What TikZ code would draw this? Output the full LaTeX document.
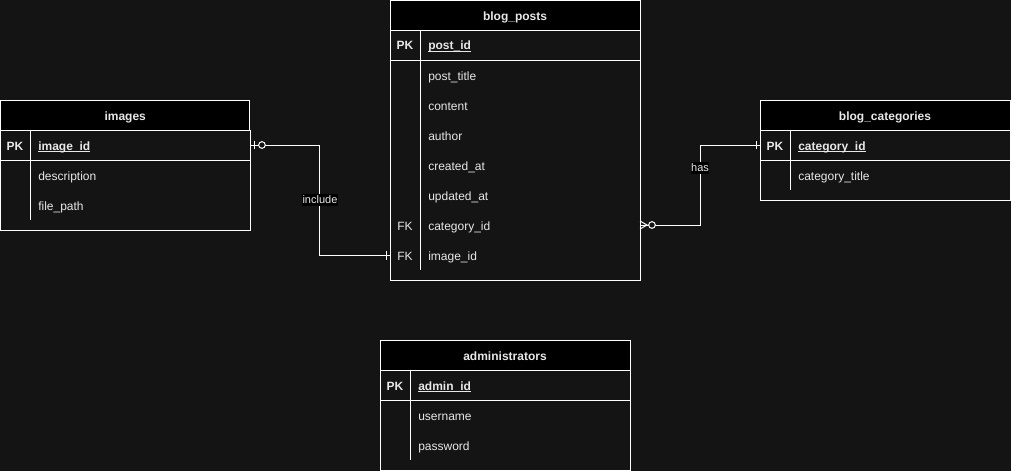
\documentclass[tikz,border=0pt]{standalone}
\usepackage{fontspec}
\setmainfont{Liberation Sans}
\usetikzlibrary{calc}
\definecolor{bg}{RGB}{20,20,20}
\definecolor{ink}{RGB}{232,232,232}
\newcommand{\keyname}[1]{\setbox0\hbox{#1}\rlap{\rule[-1.4pt]{\wd0}{0.7pt}}\box0}

\begin{document}
\begin{tikzpicture}[x=0.75pt,y=-0.75pt,
  frame/.style={draw=white,line width=0.75pt},
  head/.style={frame,fill=black,text=ink,font=\fontsize{9}{11}\selectfont\bfseries,
    minimum width=187.5pt,minimum height=22.5pt,inner sep=0pt,outer sep=0pt,
    anchor=north west,text height=7.5pt,text depth=0pt},
  fld/.style={text=ink,font=\fontsize{9}{11}\selectfont,anchor=west,inner sep=0pt,
    text height=7.5pt,text depth=0pt},
  key/.style={fld,anchor=center},
  bold/.style={font=\fontsize{9}{11}\selectfont\bfseries},
  rel/.style={draw=white,line width=0.75pt},
  lbl/.style={fill=black,text=ink,font=\fontsize{8.25}{10}\selectfont,
    inner xsep=0.3pt,inner ysep=1.5pt}]
  \path[use as bounding box,fill=bg] (0,0) rectangle (1011,471);

  % blog_posts
  \draw[frame,fill=bg] (390,30) rectangle ++(250,250);
  \node[head] (posts) at (390,0.5) {blog\_posts};
  \draw[frame] (390,60) -- (640,60);
  \draw[frame] (420,30) -- (420,270);
  \node[key,bold] (postsPK) at (405,45) {PK};
  \node[fld,bold] (postId) at (428,45) {\keyname{post\_id}};
  \node[fld] (postTitle) at (428,75) {post\_title};
  \node[fld] (postContent) at (428,105) {content};
  \node[fld] (postAuthor) at (428,135) {author};
  \node[fld] (postCreated) at (428,165) {created\_at};
  \node[fld] (postUpdated) at (428,195) {updated\_at};
  \node[key] (postsFK1) at (405,225) {FK};
  \node[fld] (postCat) at (428,225) {category\_id};
  \node[key] (postsFK2) at (405,255) {FK};
  \node[fld] (postImage) at (428,255) {image\_id};

  % images
  \draw[frame,fill=bg] (0.5,130) rectangle (250,230);
  \node[head,minimum width=187.1pt] (images) at (0.5,100) {images};
  \draw[frame] (0.5,160) -- (250,160);
  \draw[frame] (30,130) -- (30,220);
  \node[key,bold] (imagesPK) at (15,145) {PK};
  \node[fld,bold] (imageId) at (38,145) {\keyname{image\_id}};
  \node[fld] (imageDesc) at (38,175) {description};
  \node[fld] (imagePath) at (38,205) {file\_path};

  % blog_categories
  \draw[frame,fill=bg] (760,130) rectangle ++(250,70);
  \node[head] (cats) at (760,100) {blog\_categories};
  \draw[frame] (760,160) -- (1010,160);
  \draw[frame] (790,130) -- (790,190);
  \node[key,bold] (catsPK) at (775,145) {PK};
  \node[fld,bold] (catId) at (798,145) {\keyname{category\_id}};
  \node[fld] (catTitle) at (798,175) {category\_title};

  % administrators
  \draw[frame,fill=bg] (380,370) rectangle ++(250,100);
  \node[head] (admins) at (380,340) {administrators};
  \draw[frame] (380,400) -- (630,400);
  \draw[frame] (410,370) -- (410,460);
  \node[key,bold] (adminsPK) at (395,385) {PK};
  \node[fld,bold] (adminId) at (418,385) {\keyname{admin\_id}};
  \node[fld] (adminUser) at (418,415) {username};
  \node[fld] (adminPass) at (418,445) {password};

  % relations
  \draw[rel] (images.east |- imageId) -- ++(70,0)
    |- node[lbl,pos=0.25] (inclLbl) {include} (posts.west |- postImage);
  \draw[rel] (images.east |- imageId) ++(5,-4) -- ++(0,8);
  \draw[rel,fill=bg] (images.east |- imageId) ++(12,0) circle[radius=2.5pt];
  \draw[rel] (posts.west |- postImage) ++(-3.5,-4.5) -- ++(0,9);

  \draw[rel] (posts.east |- postCat) -- ++(60,0)
    |- node[lbl,pos=0.356] (hasLbl) {has} (cats.west |- catId);
  \draw[rel] (cats.west |- catId) ++(-3.5,-4) -- ++(0,8);
  \draw[rel] (posts.east |- postCat) ++(0,-4) -- ++(7,4) -- ++(-7,4);
  \draw[rel,fill=bg] (posts.east |- postCat) ++(12,0) circle[radius=2.5pt];
\end{tikzpicture}
\end{document}
